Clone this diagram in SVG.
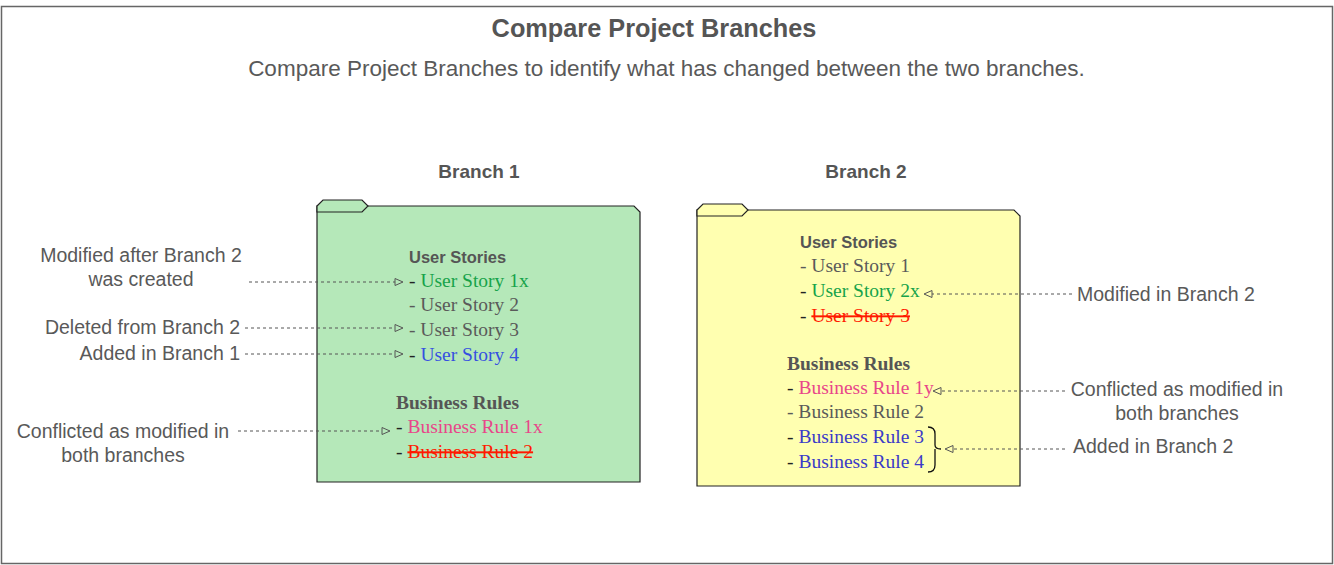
<svg xmlns="http://www.w3.org/2000/svg" width="1334" height="565" viewBox="0 0 1334 565">
<defs>
<marker id="tri" markerUnits="userSpaceOnUse" markerWidth="10" markerHeight="10" refX="0" refY="5" orient="auto" overflow="visible">
<path d="M0,1.5 L8,5 L0,8.5 Z" fill="none" stroke="#555" stroke-width="1"/>
</marker>
</defs>
<style>
.lbl{font-family:"Liberation Sans",Arial,sans-serif;font-size:19.5px;fill:#595959}
.sub{font-family:"Liberation Sans",Arial,sans-serif;font-size:22.5px;fill:#595959}
.hdr{font-family:"Liberation Sans",Arial,sans-serif;font-weight:bold;fill:#555}
.sec{font-family:"Liberation Sans",Arial,sans-serif;font-weight:bold;font-size:16.5px;fill:#555}
.secs{font-family:"Liberation Serif","Times New Roman",serif;font-weight:bold;font-size:19.5px;fill:#555}
.it{font-family:"Liberation Serif","Times New Roman",serif;font-size:19.5px;fill:#5a5a5a}
.d{fill:#222}
.g{fill:#17a34a}
.b1{fill:#3550e0}
.b2{fill:#3b3bc8}
.p{fill:#e8468a}
.r{fill:#ff1a00;text-decoration:line-through}
.conn line{stroke:#555;stroke-width:1;stroke-dasharray:3,3;marker-end:url(#tri)}
.body{stroke:#222;stroke-width:1.2}
</style>
<rect x="1.5" y="6.5" width="1331" height="557" fill="#fff" stroke="#666" stroke-width="1.5"/>
<g id="title">
<text class="hdr" x="654" y="37" text-anchor="middle" font-size="25.3px">Compare Project Branches</text>
<text class="sub" x="666.5" y="76" text-anchor="middle">Compare Project Branches to identify what has changed between the two branches.</text>
</g>
<g id="branch1">
<text class="hdr" x="479" y="178" text-anchor="middle" font-size="19px">Branch 1</text>
<path class="body" d="M317,206 L634,206 L640,212 L640,482 L317,482 Z" fill="#b5e8b9"/>
<path class="body" d="M317,206 L323,200 L362,200 L368,206 L362,212 L317,212 Z" fill="#b5e8b9"/>
<text class="sec" x="409" y="263">User Stories</text>
<text class="it" x="409" y="287"><tspan class="d">- </tspan><tspan class="g">User Story 1x</tspan></text>
<text class="it" x="409" y="311">- User Story 2</text>
<text class="it" x="409" y="336">- User Story 3</text>
<text class="it" x="409" y="361"><tspan class="d">- </tspan><tspan class="b1">User Story 4</tspan></text>
<text class="secs" x="396" y="409">Business Rules</text>
<text class="it" x="396" y="433"><tspan class="d">- </tspan><tspan class="p">Business Rule 1x</tspan></text>
<text class="it" x="396" y="458"><tspan class="d">- </tspan><tspan class="r">Business Rule 2</tspan></text>
</g>
<g id="branch2">
<text class="hdr" x="866" y="178" text-anchor="middle" font-size="19px">Branch 2</text>
<path class="body" d="M697,210 L1014,210 L1020,216 L1020,486 L697,486 Z" fill="#ffffb0"/>
<path class="body" d="M697,210 L703,204 L742,204 L748,210 L742,216 L697,216 Z" fill="#ffffb0"/>
<text class="sec" x="800" y="248">User Stories</text>
<text class="it" x="800" y="272">- User Story 1</text>
<text class="it" x="800" y="297"><tspan class="d">- </tspan><tspan class="g">User Story 2x</tspan></text>
<text class="it" x="800" y="322"><tspan class="d">- </tspan><tspan class="r">User Story 3</tspan></text>
<text class="secs" x="787" y="370">Business Rules</text>
<text class="it" x="787" y="394"><tspan class="d">- </tspan><tspan class="p">Business Rule 1y</tspan></text>
<text class="it" x="787" y="418">- Business Rule 2</text>
<text class="it" x="787" y="443"><tspan class="d">- </tspan><tspan class="b2">Business Rule 3</tspan></text>
<text class="it" x="787" y="468"><tspan class="d">- </tspan><tspan class="b2">Business Rule 4</tspan></text>
<path d="M928,427 Q935,427 935,434 L935,445 Q935,449 941,449 M935,449 Q935,453 935,456 L935,465 Q935,472 928,472" fill="none" stroke="#111" stroke-width="1.3"/>
</g>
<g id="notes">
<text class="lbl" x="141" y="262" text-anchor="middle">Modified after Branch 2</text>
<text class="lbl" x="141" y="286" text-anchor="middle">was created</text>
<text class="lbl" x="240" y="334" text-anchor="end">Deleted from Branch 2</text>
<text class="lbl" x="240" y="360" text-anchor="end">Added in Branch 1</text>
<text class="lbl" x="123" y="438" text-anchor="middle">Conflicted as modified in</text>
<text class="lbl" x="123" y="462" text-anchor="middle">both branches</text>
<text class="lbl" x="1077" y="301">Modified in Branch 2</text>
<text class="lbl" x="1177" y="396" text-anchor="middle">Conflicted as modified in</text>
<text class="lbl" x="1177" y="420" text-anchor="middle">both branches</text>
<text class="lbl" x="1073" y="453">Added in Branch 2</text>
</g>
<g id="connectors" class="conn">
<line x1="249" y1="282" x2="395" y2="282"/>
<line x1="245" y1="328" x2="395" y2="328"/>
<line x1="245" y1="354" x2="395" y2="354"/>
<line x1="238" y1="431" x2="382" y2="431"/>
<line x1="1072" y1="294" x2="932" y2="294"/>
<line x1="1065" y1="391" x2="941" y2="391"/>
<line x1="1065" y1="449" x2="953" y2="449"/>
</g>
</svg>
